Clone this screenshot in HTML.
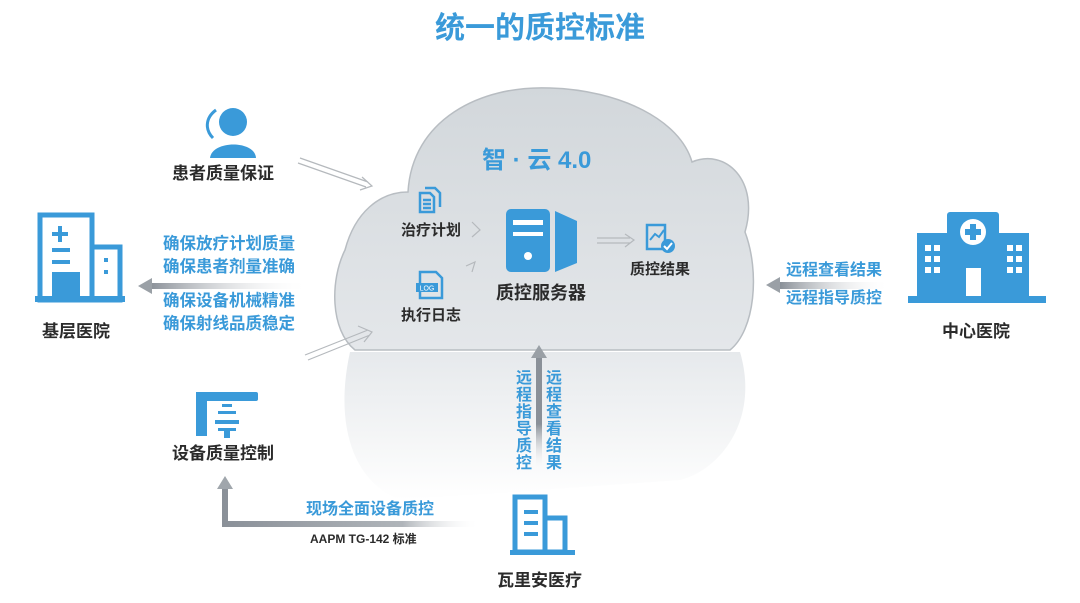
<!DOCTYPE html>
<html><head><meta charset="utf-8"><style>
body{margin:0;width:1080px;height:603px;background:#fff;overflow:hidden;position:relative;font-family:"Liberation Sans","Noto Sans CJK SC",sans-serif;}
.t{position:absolute;font-weight:bold;white-space:nowrap;}
.k{color:#2b2b2b;font-size:17px;}
.b{color:#3a9ad9;font-size:16.5px;line-height:23px;}
</style></head><body>
<svg width="1080" height="603" style="position:absolute;left:0;top:0">
<defs>
<linearGradient id="cg" x1="0" y1="0" x2="0" y2="1"><stop offset="0" stop-color="#d2d7db"/><stop offset="1" stop-color="#e4e7ea"/></linearGradient>
<linearGradient id="rg" x1="0" y1="0" x2="0" y2="1"><stop offset="0" stop-color="#e6e9ec"/><stop offset="0.6" stop-color="#f5f6f7"/><stop offset="1" stop-color="#ffffff"/></linearGradient>
<linearGradient id="ah" x1="0" x2="1"><stop offset="0" stop-color="#8a9098"/><stop offset="1" stop-color="#fff" stop-opacity="0"/></linearGradient>
<linearGradient id="av" x1="0" y1="1" x2="0" y2="0"><stop offset="0" stop-color="#fff" stop-opacity="0"/><stop offset="0.4" stop-color="#8a9098"/><stop offset="1" stop-color="#8a9098"/></linearGradient>
<linearGradient id="ab" x1="0" x2="1"><stop offset="0" stop-color="#8a9098"/><stop offset="0.7" stop-color="#b0b5ba"/><stop offset="1" stop-color="#fff" stop-opacity="0"/></linearGradient>
</defs>
<path d="M350 352 L740 352 C760 420 720 470 680 480 L400 500 C350 480 335 420 350 352Z" fill="url(#rg)"/>
<path d="M355 350 C330 330 330 280 345 250 C355 212 380 192 408 192 C412 120 480 85 550 88 C620 90 680 120 692 162 C725 148 760 180 745 232 C760 272 755 330 730 350 Z" fill="url(#cg)" stroke="#b8bdc2" stroke-width="1.5"/>
<path d="M150 283 L310 283 L310 289 L150 289Z" fill="url(#ah)"/>
<path d="M138 286 L152 278 L152 294Z" fill="#9aa0a6"/>
<path d="M780 282 L890 282 L890 289 L780 289Z" fill="url(#ah)"/>
<path d="M766 285 L780 277 L780 293Z" fill="#9aa0a6"/>
<rect x="536" y="355" width="6" height="115" fill="url(#av)"/>
<path d="M539 345 L531 358 L547 358Z" fill="#9aa0a6"/>
<path d="M222 488 L222 527 L480 527 L480 521 L228 521 L228 488Z" fill="url(#ab)"/>
<path d="M225 476 L217 489 L233 489Z" fill="#a0a6ac"/>
<g fill="none" stroke="#b5b9bd" stroke-width="1.2">
<path d="M300 158 L368 182 M298 163 L366 187 M362 177 L372 186 L360 190"/>
<path d="M305 355 L368 330 M308 360 L370 335 M358 326 L372 332 L364 342"/>
<path d="M597 238 L630 238 M597 243 L630 243 M625 234 L634 240 L625 247"/>
<path d="M472 222 L480 230 L472 237" /><path d="M466 266 L475 262 L472 272"/>
</g>
<g fill="#3a9ad9"><circle cx="233" cy="122" r="14"/><path d="M210 158 C212 140 255 140 256 158Z"/>
<path d="M216 110 C205 118 205 130 213 138" stroke="#3a9ad9" stroke-width="3" fill="none"/></g>
<g fill="none" stroke="#3a9ad9" stroke-width="5"><rect x="40" y="215" width="52" height="85"/><rect x="92" y="247" width="28" height="53"/></g>
<g fill="#3a9ad9"><rect x="52" y="232" width="16" height="4"/><rect x="58" y="226" width="4" height="16"/><rect x="52" y="248" width="18" height="4"/><rect x="52" y="260" width="18" height="4"/><rect x="52" y="272" width="28" height="28"/><rect x="104" y="258" width="4" height="4"/><rect x="104" y="270" width="4" height="4"/><rect x="35" y="296" width="90" height="6"/></g>
<g fill="#3a9ad9"><rect x="196" y="392" width="62" height="9" rx="2"/><rect x="196" y="392" width="11" height="44"/><rect x="215" y="420" width="24" height="4"/><rect x="218" y="411" width="18" height="3"/><rect x="222" y="404" width="10" height="3"/><rect x="224" y="428" width="6" height="10"/><rect x="218" y="428" width="18" height="3"/></g>
<g fill="#3a9ad9"><rect x="947" y="212" width="52" height="90" rx="3"/><rect x="917" y="233" width="38" height="69"/><rect x="991" y="233" width="38" height="69"/><rect x="908" y="296" width="138" height="7"/></g>
<circle cx="973" cy="232" r="13" fill="#fff"/><g fill="#3a9ad9"><rect x="970" y="224" width="6" height="16"/><rect x="965" y="229" width="16" height="6"/></g>
<g fill="#fff"><rect x="966" y="268" width="15" height="28"/>
<rect x="925" y="245" width="6" height="6"/><rect x="934" y="245" width="6" height="6"/><rect x="925" y="256" width="6" height="6"/><rect x="934" y="256" width="6" height="6"/><rect x="925" y="267" width="6" height="6"/><rect x="934" y="267" width="6" height="6"/>
<rect x="1007" y="245" width="6" height="6"/><rect x="1016" y="245" width="6" height="6"/><rect x="1007" y="256" width="6" height="6"/><rect x="1016" y="256" width="6" height="6"/><rect x="1007" y="267" width="6" height="6"/><rect x="1016" y="267" width="6" height="6"/></g>
<g fill="none" stroke="#3a9ad9" stroke-width="5"><rect x="515" y="497" width="30" height="55"/><rect x="545" y="518" width="20" height="34"/></g>
<g fill="#3a9ad9"><rect x="524" y="510" width="14" height="4"/><rect x="524" y="521" width="14" height="4"/><rect x="524" y="532" width="14" height="4"/><rect x="510" y="550" width="65" height="5"/></g>
<g fill="#3a9ad9"><rect x="506" y="209" width="44" height="63" rx="5"/><path d="M555 211 L577 221 L577 263 L555 272Z"/></g>
<g fill="#fff"><rect x="513" y="220" width="30" height="5"/><rect x="513" y="232" width="30" height="4"/><circle cx="528" cy="256" r="4"/></g>
<g fill="none" stroke="#3a9ad9" stroke-width="2.5"><path d="M420 193 L430 193 L434 197 L434 212 L420 212Z"/><path d="M425 188 L435 188 L440 193 L440 207"/><path d="M423 200 L431 200 M423 204 L431 204 M423 208 L431 208"/></g>
<g><path d="M420 272 L436 272 L442 278 L442 298 L420 298Z" fill="none" stroke="#3a9ad9" stroke-width="2.5"/><rect x="416" y="283" width="22" height="9" fill="#3a9ad9"/><text x="427" y="290.5" font-size="7" fill="#fff" text-anchor="middle" font-family="Liberation Sans">LOG</text></g>
<g><rect x="647" y="225" width="18" height="24" fill="none" stroke="#3a9ad9" stroke-width="2.5"/><path d="M650 240 L655 234 L659 237 L664 230" stroke="#3a9ad9" stroke-width="2" fill="none"/><circle cx="668" cy="246" r="7" fill="#3a9ad9"/><path d="M664 246 L667 249 L672 243" stroke="#fff" stroke-width="2" fill="none"/></g>
</svg>
<div class="t" style="left:435px;top:3px;font-size:30px;color:#3a9ad9;">统一的质控标准</div>
<div class="t" style="left:482px;top:140px;font-size:24px;color:#3a9ad9;">智 · 云 4.0</div>
<div class="t k" style="left:172px;top:159px;">患者质量保证</div>
<div class="t b" style="left:163px;top:233px;">确保放疗计划质量<br>确保患者剂量准确</div>
<div class="t b" style="left:163px;top:290px;">确保设备机械精准<br>确保射线品质稳定</div>
<div class="t k" style="left:42px;top:317px;">基层医院</div>
<div class="t k" style="left:172px;top:439px;">设备质量控制</div>
<div class="t" style="left:401px;top:219px;font-size:15px;color:#2b2b2b;">治疗计划</div>
<div class="t" style="left:401px;top:304px;font-size:15px;color:#2b2b2b;">执行日志</div>
<div class="t k" style="left:496px;top:279px;font-size:18px;">质控服务器</div>
<div class="t" style="left:630px;top:258px;font-size:15px;color:#2b2b2b;">质控结果</div>
<div class="t b" style="left:786px;top:257px;line-height:28px;font-size:16px;">远程查看结果<br>远程指导质控</div>
<div class="t k" style="left:942px;top:317px;">中心医院</div>
<div class="t b" style="left:516px;top:370px;width:16px;line-height:17px;white-space:normal;font-size:16px;">远程指导质控</div>
<div class="t b" style="left:546px;top:370px;width:16px;line-height:17px;white-space:normal;font-size:16px;">远程查看结果</div>
<div class="t b" style="left:306px;top:498px;font-size:16px;">现场全面设备质控</div>
<div class="t" style="left:310px;top:530px;font-size:12px;color:#2b2b2b;">AAPM TG-142 标准</div>
<div class="t k" style="left:497px;top:566px;">瓦里安医疗</div>
</body></html>
